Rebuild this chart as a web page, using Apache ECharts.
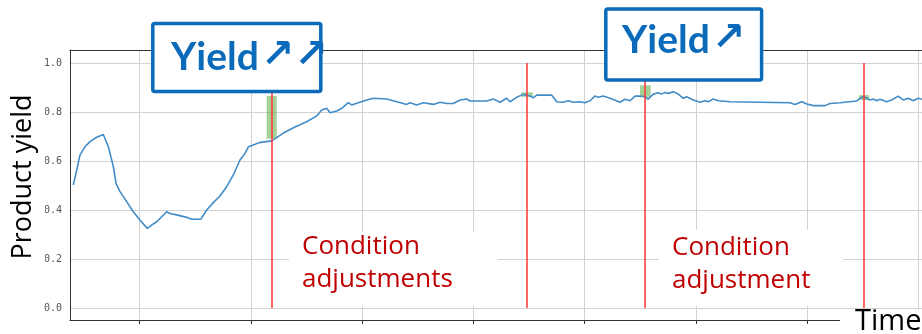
<!DOCTYPE html>
<html><head><meta charset="utf-8">
<script src="https://cdn.jsdelivr.net/npm/echarts@6/dist/echarts.min.js"></script>
<style>html,body{margin:0;padding:0;background:#fff}#c{width:922px;height:334px}</style>
</head><body><div id="c"></div>
<script>
// time (arbitrary units, grid line every 10) and product yield
const time = [4.05,4.36,4.65,5.10,5.55,6.15,6.75,7.20,7.65,7.89,8.25,8.85,9.44,10.04,10.70,11.24,11.55,12.44,12.74,13.34,14.24,14.69,15.50,16.04,16.63,17.23,17.38,17.83,18.43,19.03,19.48,19.78,20.22,20.76,21.88,22.92,23.97,25.02,25.92,26.37,26.82,27.12,27.72,28.17,28.76,29.07,29.66,30.41,31.01,32.21,33.11,34.01,34.30,34.91,35.50,36.40,37.00,37.60,38.20,38.80,39.40,39.70,41.19,41.79,42.39,42.99,43.29,43.89,44.48,45.08,45.38,45.68,47.03,47.48,48.07,48.52,48.98,49.58,50.03,50.48,50.92,51.22,51.67,52.27,53.17,53.62,54.07,54.52,54.97,55.42,55.71,56.16,56.61,56.91,57.21,57.51,57.96,58.41,58.86,59.16,59.76,60.36,60.81,61.10,61.55,62.00,63.05,68.44,68.89,69.50,69.95,70.54,71.59,72.04,72.94,73.54,74.44,74.74,75.04,75.34,75.64,75.93,76.23,76.53,77.13,77.58,78.17,78.62,79.07,79.52,79.97,80.30];
const yieldValues = [0.502,0.563,0.624,0.658,0.679,0.697,0.708,0.658,0.577,0.509,0.475,0.434,0.393,0.359,0.325,0.343,0.352,0.393,0.386,0.380,0.370,0.362,0.362,0.400,0.430,0.457,0.461,0.495,0.543,0.604,0.631,0.658,0.665,0.675,0.682,0.714,0.739,0.760,0.784,0.808,0.815,0.797,0.804,0.815,0.838,0.829,0.838,0.849,0.856,0.853,0.842,0.831,0.838,0.829,0.838,0.831,0.840,0.835,0.835,0.849,0.853,0.845,0.845,0.853,0.840,0.856,0.842,0.860,0.872,0.865,0.858,0.869,0.869,0.842,0.840,0.846,0.840,0.842,0.838,0.846,0.865,0.860,0.865,0.856,0.840,0.852,0.846,0.865,0.865,0.862,0.852,0.873,0.879,0.873,0.880,0.876,0.883,0.873,0.856,0.862,0.849,0.840,0.846,0.842,0.853,0.846,0.842,0.838,0.831,0.842,0.833,0.826,0.826,0.835,0.838,0.841,0.845,0.856,0.862,0.856,0.849,0.853,0.846,0.852,0.842,0.849,0.865,0.849,0.856,0.846,0.856,0.852];
const adjustTimes = [21.88, 44.76, 55.42, 75.07];
// green highlight ranges: [timeStart, timeEnd, yieldLow, yieldHigh]
const rangeStart = [21.43, 44.28, 54.97, 74.65];
const rangeEnd   = [22.33, 45.34, 55.93, 75.55];
const rangeLow   = [0.691, 0.862, 0.860, 0.849];
const rangeHigh  = [0.865, 0.880, 0.909, 0.869];
const yTicks = [0.0, 0.2, 0.4, 0.6, 0.8, 1.0];

const chart = echarts.init(document.getElementById('c'), null, {renderer: 'canvas'});
const L = 70, TICKL = 139.5, W = 922, PX = 11.13;
const tMax = 10 + (W - TICKL) / PX;
const tMin = 10 - (TICKL - L) / PX;
const gridColor = '#d2d2d2';
const axisColor = '#333';
const hidden = {show: false};
const spine = {show: true, lineStyle: {color: axisColor, width: 1}};

const option = {
  animation: false,
  backgroundColor: '#fff',
  grid: [
    {left: L, top: 50, right: 0, bottom: 14},
    {left: TICKL, top: 50, right: 0, bottom: 14},
    {left: L, top: 63, right: 0, bottom: 26}
  ],
  xAxis: [
    {gridIndex: 0, type: 'value', position: 'bottom', min: 0, max: 1, axisLine: spine, axisTick: hidden, axisLabel: hidden, splitLine: hidden},
    {gridIndex: 0, type: 'value', position: 'top', min: 0, max: 1, axisLine: spine, axisTick: hidden, axisLabel: hidden, splitLine: hidden},
    {gridIndex: 1, type: 'value', min: 10, max: tMax, interval: 10,
      axisLine: hidden, axisLabel: hidden,
      axisTick: {show: true, inside: false, length: 4, lineStyle: {color: axisColor}},
      splitLine: {show: true, lineStyle: {color: gridColor, width: 1}}},
    {gridIndex: 2, type: 'value', min: tMin, max: tMax, axisLine: hidden, axisTick: hidden, axisLabel: hidden, splitLine: hidden}
  ],
  yAxis: [
    {gridIndex: 0, type: 'value', min: 0, max: 1, axisLine: spine, axisTick: hidden, axisLabel: hidden, splitLine: hidden},
    {gridIndex: 1, type: 'value', min: 0, max: 1, axisLine: hidden, axisTick: hidden, axisLabel: hidden, splitLine: hidden},
    {gridIndex: 2, type: 'value', min: yTicks[0], max: yTicks[yTicks.length-1], interval: 0.2,
      axisLine: hidden, axisTick: hidden,
      axisLabel: {show: true, margin: 8, color: '#555', fontFamily: 'DejaVu Sans Mono', fontSize: 10,
        formatter: v => v.toFixed(1)},
      splitLine: {show: true, lineStyle: {color: gridColor, width: 1}}}
  ],
  series: [
    {type: 'line', xAxisIndex: 3, yAxisIndex: 2, data: time.map((t, i) => [t, yieldValues[i]]),
      showSymbol: false, symbol: 'none', lineStyle: {color: '#428cc8', width: 1.6}, z: 2,
      markLine: {silent: true, symbol: 'none', label: {show: false},
        lineStyle: {color: '#ff3333', width: 1.5, type: 'solid'},
        data: adjustTimes.map(t => ({xAxis: t}))}
    },
    {type: 'line', xAxisIndex: 3, yAxisIndex: 2, data: [], z: 4,
      markArea: {silent: true, itemStyle: {color: 'rgba(104,178,82,0.6)'},
        data: rangeStart.map((s, i) => [{coord: [s, rangeLow[i]]}, {coord: [rangeEnd[i], rangeHigh[i]]}])}
    }
  ],
  graphic: [
    // white backgrounds behind annotation text
    {type: 'rect', z: 100, shape: {x: 289, y: 232, width: 209, height: 74}, style: {fill: '#fff'}},
    {type: 'rect', z: 100, shape: {x: 659, y: 230, width: 184, height: 76}, style: {fill: '#fff'}},
    {type: 'rect', z: 100, shape: {x: 840, y: 310, width: 82, height: 24}, style: {fill: '#fff'}},
    {type: 'rect', z: 100, shape: {x: 8, y: 90, width: 37, height: 175}, style: {fill: '#fff'}},
    {type: 'text', z: 101, x: 302, y: 230, style: {text: 'Condition\nadjustments', fill: '#c00000',
      font: '26px "Open Sans"', lineHeight: 33}},
    {type: 'text', z: 101, x: 672, y: 231, style: {text: 'Condition\nadjustment', fill: '#c00000',
      font: '26px "Open Sans"', lineHeight: 33}},
    {type: 'text', z: 101, x: 855, y: 307, style: {text: 'Time', fill: '#000', font: '29px "Open Sans"'}},
    {type: 'text', z: 101, x: 23, y: 177, rotation: Math.PI/2, style: {text: 'Product yield', fill: '#000',
      font: '27px "Open Sans"', align: 'center', verticalAlign: 'middle'}},
    // annotation boxes
    {type: 'rect', z: 102, shape: {x: 152.8, y: 23.5, width: 168, height: 68, r: 2},
      style: {fill: '#fff', stroke: '#0b6bba', lineWidth: 3.5}},
    {type: 'text', z: 103, x: 171, y: 57, style: {text: '{a|Yield}{b|↗}{c|↗}', fill: '#0b6bba', verticalAlign: 'middle',
      rich: {a: {font: 'bold 39px Lato', fill: '#0b6bba'},
             b: {font: 'bold 40px "DejaVu Sans"', fill: '#0b6bba', padding: [0,0,0,2]},
             c: {font: 'bold 40px "DejaVu Sans"', fill: '#0b6bba', padding: [0,0,0,0]}}}},
    {type: 'rect', z: 102, shape: {x: 605.8, y: 9.1, width: 155.8, height: 70.8, r: 2},
      style: {fill: '#fff', stroke: '#0b6bba', lineWidth: 3.5}},
    {type: 'text', z: 103, x: 622, y: 40, style: {text: '{a|Yield}{b|↗}', fill: '#0b6bba', verticalAlign: 'middle',
      rich: {a: {font: 'bold 39px Lato', fill: '#0b6bba'}, b: {font: 'bold 40px "DejaVu Sans"', fill: '#0b6bba', padding: [0,0,0,2]}}}}
  ]
};
chart.setOption(option);
</script>
</body></html>
